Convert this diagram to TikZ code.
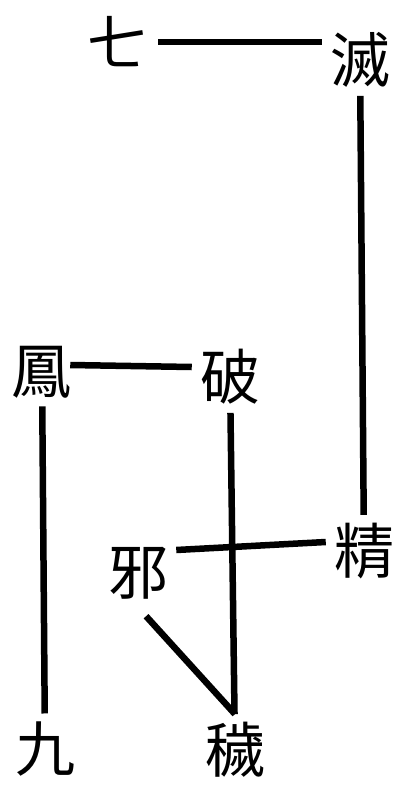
\documentclass[tikz,border=0pt]{standalone}
\usepackage{fontspec}
\newfontfamily\cjk{Noto Sans CJK TC}
\usepackage{tikz}
\usetikzlibrary{positioning}

\tikzset{zi/.style={inner sep=5pt,font=\cjk\fontsize{60}{60}\selectfont}}

\begin{document}
\begin{tikzpicture}[x=1pt,y=-1pt,on grid,line width=6.5pt]
\useasboundingbox (0,0) rectangle (401,789);
\path node[zi] at (117,42) (qi) {七};
\path node[zi, below right=18pt and 243pt of qi] (mie) {滅};
\path node[zi, below right=491pt and 4pt of mie] (jing) {精};
\path node[zi, below left=22pt and 226pt of jing] (xie) {邪};
\path node[zi, above right=196pt and 92pt of xie] (po) {破};
\path node[zi, above left=5pt and 188pt of po] (feng) {鳳};
\path node[zi, below right=377pt and 3pt of feng] (jiu) {九};
\path node[zi, below right=1pt and 190pt of jiu] (hui) {穢};
%lines
\path[draw] ([xshift=3pt]qi.east) edge (qi -| mie.west);
\path[draw] (mie) edge (jing);
\path[draw] ([xshift=-10pt,yshift=7pt]feng.east) edge ([yshift=10pt]po.west);
\path[draw] (feng) edge (jiu);
\path[draw] (po) edge (hui);
\path[draw] ([yshift=9pt]jing.west) edge ([yshift=23pt]xie.east);
\path[draw,shorten <=12pt] (xie.south) edge (hui.north);
\end{tikzpicture}
\end{document}
